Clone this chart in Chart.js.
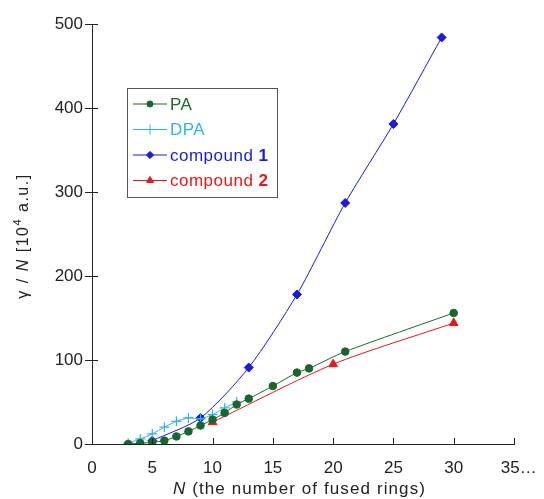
<!DOCTYPE html>
<html>
<head>
<meta charset="utf-8">
<script src="https://cdn.jsdelivr.net/npm/chart.js@4.4.1/dist/chart.umd.min.js"></script>
<style>
    html, body { margin: 0; padding: 0; background: #fff; }
    #wrap { width: 544px; height: 499px; }
</style>
</head>
<body>
<div id="wrap"><canvas id="chart"></canvas></div>
<script>
// values
const paN = [3, 4, 5, 6, 7, 8, 9, 10, 11, 12, 13, 15, 17, 18, 21, 30];
const paVal = [0, 1, 2, 4, 9, 15, 22, 29, 37, 47, 54, 69, 85, 90, 110, 156];

const dpaN = [3, 4, 5, 6, 7, 8, 9, 10, 11, 12];
const dpaVal = [1, 6, 12, 20, 27, 31, 30, 35, 43, 50];

const comp1N = [5, 9, 13, 17, 21, 25, 29];
const comp1Val = [4, 31, 91, 178, 287, 381, 484];

const comp2N = [10, 20, 30];
const comp2Val = [26, 95, 144];

const xTicks = [0, 5, 10, 15, 20, 25, 30, 35];
const yTicks = [0, 100, 200, 300, 400, 500];

const FONT = "'Liberation Sans', Arial, Helvetica, sans-serif";

const toPoints = (xs, ys) => xs.map((x, i) => ({ x: x, y: ys[i] }));

const makeSet = (label, bold, xs, ys, color, style, radius) => ({
    label: label,
    boldPart: bold,
    data: toPoints(xs, ys),
    borderColor: color,
    backgroundColor: color,
    borderWidth: 1,
    pointStyle: style,
    pointRadius: radius,
    pointBorderWidth: style === "cross" ? 1.2 : 1,
    tension: 0.25,
    fill: false
});

const datasets = [
    makeSet("PA", "", paN, paVal, "#17692b", "circle", 3.8),
    makeSet("DPA", "", dpaN, dpaVal, "#2fb5ec", "cross", 5),
    makeSet("compound ", "1", comp1N, comp1Val, "#1a1ae6", "rectRot", 4.5),
    makeSet("compound ", "2", comp2N, comp2Val, "#ee1515", "triangle", 5)
];

// axis ticks, titles and the boxed legend
const decorations = {
    id: "decorations",
    afterDraw(chart) {
        const ctx = chart.ctx;
        const xs = chart.scales.x, ys = chart.scales.y;
        const area = chart.chartArea;
        ctx.save();
        ctx.strokeStyle = "#222";
        ctx.lineWidth = 1;

        // x ticks point up into the plot
        xTicks.forEach(v => {
            const px = Math.round(xs.getPixelForValue(v)) + 0.5;
            ctx.beginPath();
            ctx.moveTo(px, area.bottom);
            ctx.lineTo(px, area.bottom - 6);
            ctx.stroke();
        });
        // y ticks cross the axis
        yTicks.forEach(v => {
            const py = Math.round(ys.getPixelForValue(v)) + 0.5;
            ctx.beginPath();
            ctx.moveTo(area.left - 7, py);
            ctx.lineTo(area.left + 6, py);
            ctx.stroke();
        });

        // x title: italic N then plain text
        ctx.fillStyle = "#222";
        ctx.textBaseline = "alphabetic";
        ctx.letterSpacing = "1.1px";
        const xt1 = "N", xt2 = " (the number of fused rings)";
        ctx.font = "italic 17px " + FONT;
        const w1 = ctx.measureText(xt1).width;
        const tx = 173;
        ctx.fillText(xt1, tx, 494);
        ctx.font = "17px " + FONT;
        ctx.fillText(xt2, tx + w1, 494);

        // y title, rotated
        ctx.save();
        ctx.translate(28, 236);
        ctx.rotate(-Math.PI / 2);
        ctx.letterSpacing = "1.5px";
        const parts = [
            { t: "γ / ", f: "16px " + FONT, dy: 0 },
            { t: "N", f: "italic 16px " + FONT, dy: 0 },
            { t: " [10", f: "16px " + FONT, dy: 0 },
            { t: "4", f: "11px " + FONT, dy: -7 },
            { t: " a.u.]", f: "16px " + FONT, dy: 0 }
        ];
        let total = 0;
        parts.forEach(p => { ctx.font = p.f; p.w = ctx.measureText(p.t).width; total += p.w; });
        let cx = -total / 2;
        parts.forEach(p => {
            ctx.font = p.f;
            ctx.fillText(p.t, cx, p.dy);
            cx += p.w;
        });
        ctx.restore();

        // legend box
        ctx.letterSpacing = "0.5px";
        const box = { left: 127.5, top: 88.5, right: 277.5, bottom: 197.5 };
        ctx.strokeStyle = "#555";
        ctx.strokeRect(box.left, box.top, box.right - box.left, box.bottom - box.top);
        const rowY = [104, 129.5, 155, 180.5];
        chart.data.datasets.forEach((ds, i) => {
            const y = rowY[i];
            ctx.strokeStyle = ds.borderColor;
            ctx.lineWidth = 1;
            ctx.beginPath();
            ctx.moveTo(133, y);
            ctx.lineTo(167, y);
            ctx.stroke();
            Chart.helpers.drawPoint(ctx, {
                pointStyle: ds.pointStyle,
                radius: ds.pointStyle === "cross" ? 5 : ds.pointRadius * 0.8,
                borderWidth: 1,
                rotation: 0
            }, 150, y);
            if (ds.pointStyle !== "cross") {
                ctx.fillStyle = ds.backgroundColor;
                ctx.fill();
            }
            ctx.fillStyle = ds.borderColor;
            ctx.textBaseline = "middle";
            ctx.font = "17px " + FONT;
            ctx.fillText(ds.label, 170, y + 1);
            if (ds.boldPart) {
                const lw = ctx.measureText(ds.label).width;
                ctx.font = "bold 17px " + FONT;
                ctx.fillText(ds.boldPart, 170 + lw, y + 1);
            }
        });
        ctx.restore();
    }
};

new Chart(document.getElementById("chart"), {
    type: "line",
    data: { datasets: datasets },
    options: {
        responsive: true,
        maintainAspectRatio: false,
        animation: false,
        layout: { padding: { top: 24, right: 30, left: 0, bottom: 0 } },
        plugins: {
            legend: { display: false },
            tooltip: { enabled: false }
        },
        scales: {
            x: {
                type: "linear",
                min: 0,
                max: 35,
                afterFit: s => { s.height = 55; },
                afterBuildTicks: s => { s.ticks = xTicks.map(v => ({ value: v })); },
                grid: { display: false },
                border: { display: true, color: "#222", width: 1 },
                ticks: {
                    padding: 6,
                    color: "#222",
                    font: { family: FONT, size: 17 },
                    maxRotation: 0,
                    callback: v => v === 35 ? "  35…" : String(v)
                }
            },
            y: {
                type: "linear",
                min: 0,
                max: 500,
                afterFit: s => { s.width = 92; },
                afterBuildTicks: s => { s.ticks = yTicks.map(v => ({ value: v })); },
                grid: { display: false },
                border: { display: true, color: "#222", width: 1 },
                ticks: {
                    padding: 1,
                    color: "#222",
                    font: { family: FONT, size: 17 }
                }
            }
        }
    },
    plugins: [decorations]
});
</script>
</body>
</html>
